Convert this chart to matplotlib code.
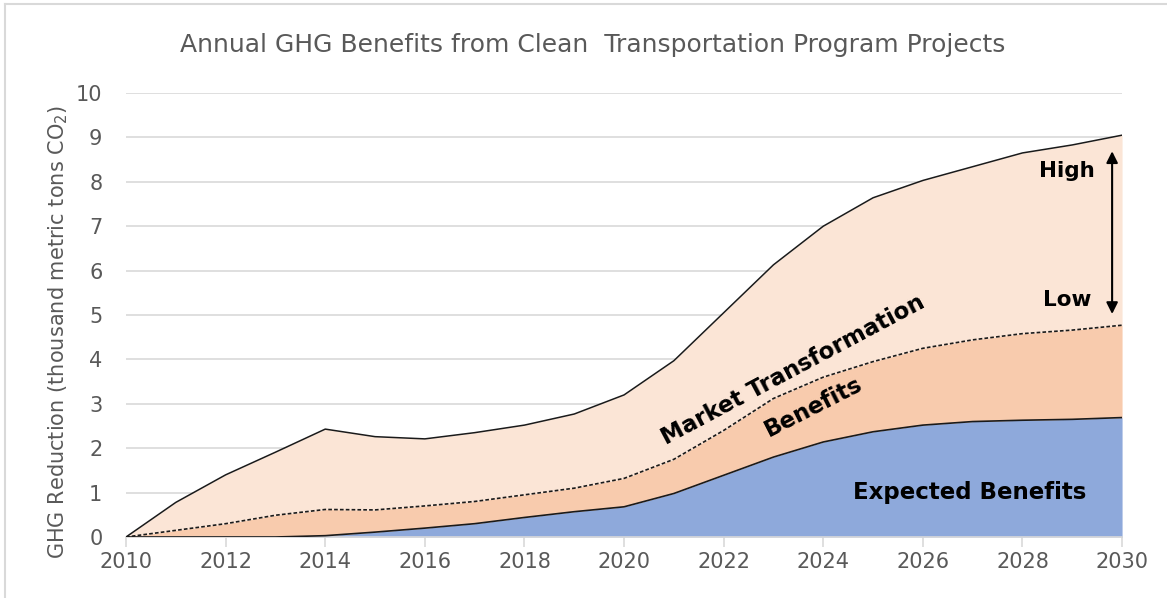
import matplotlib.pyplot as plt
import numpy as np

# data (thousand metric tons CO2)
years = np.arange(2010, 2031)
expected = [0, 0, 0, 0, 0.03, 0.11, 0.2, 0.3, 0.44, 0.57, 0.68, 0.98, 1.39, 1.8, 2.14,
            2.37, 2.52, 2.6, 2.63, 2.65, 2.69]
low = [0, 0.15, 0.3, 0.49, 0.62, 0.61, 0.7, 0.8, 0.95, 1.1, 1.32, 1.75, 2.4, 3.12, 3.6,
       3.95, 4.25, 4.44, 4.58, 4.66, 4.77]
high = [0, 0.78, 1.4, 1.91, 2.43, 2.26, 2.21, 2.35, 2.52, 2.77, 3.2, 3.97, 5.05, 6.13, 7.0,
        7.64, 8.03, 8.34, 8.65, 8.83, 9.05]

grey = '#595959'
c_exp = '#8EA9DB'
c_low = '#F8CBAD'
c_high = '#FBE5D6'

fig = plt.figure(figsize=(11.67, 5.98), dpi=100)
ax = fig.add_axes([0.108, 0.102, 0.8535, 0.7425])

ax.fill_between(years, 0, expected, color=c_exp, lw=0, zorder=2)
ax.fill_between(years, expected, low, color=c_low, lw=0, zorder=2)
ax.fill_between(years, low, high, color=c_high, lw=0, zorder=2)
ax.plot(years, expected, color='#1a1a1a', lw=1.2, zorder=3)
ax.plot(years, low, color='#1a1a1a', lw=1.2, ls=(0, (2.2, 1.3)), zorder=3)
ax.plot(years, high, color='#1a1a1a', lw=1.1, zorder=3)

ax.set_xlim(2010, 2030)
ax.set_ylim(0, 10)
ax.set_xticks(range(2010, 2031, 2))
ax.set_yticks(range(0, 11))
ax.grid(axis='y', color='#D9D9D9', lw=1.2, zorder=0)
for s in ['top', 'right', 'left']:
    ax.spines[s].set_visible(False)
ax.spines['bottom'].set_color('#D9D9D9')
ax.spines['bottom'].set_linewidth(1.2)
ax.tick_params(axis='x', colors='#D9D9D9', labelcolor=grey, labelsize=15, length=7, width=1.2, pad=4)
ax.tick_params(axis='y', length=0, labelcolor=grey, labelsize=15, pad=17)

ax.set_ylabel('GHG Reduction (thousand metric tons CO$_2$)', color=grey, fontsize=15)
ax.yaxis.set_label_coords(-0.056, 0.462)
fig.text(0.508, 0.925, 'Annual GHG Benefits from Clean  Transportation Program Projects',
         color=grey, fontsize=18, ha='center', va='center')

# annotations
ax.annotate('', xy=(2029.8, 8.75), xytext=(2029.8, 4.96),
            arrowprops=dict(arrowstyle='<|-|>', color='black', lw=1.5, mutation_scale=17), zorder=5)
ax.text(2028.9, 8.24, 'High', fontsize=15.5, fontweight='bold', ha='center', va='center', zorder=5)
ax.text(2028.9, 5.34, 'Low', fontsize=15.5, fontweight='bold', ha='center', va='center', zorder=5)
ax.text(2026.95, 1.0, 'Expected Benefits', fontsize=16.5, fontweight='bold', ha='center', va='center', zorder=5)
ax.text(2023.4, 3.75, 'Market Transformation', fontsize=16.5, fontweight='bold', ha='center', va='center',
        rotation=28, rotation_mode='anchor', zorder=5)
ax.text(2023.8, 2.93, 'Benefits', fontsize=16.5, fontweight='bold', ha='center', va='center',
        rotation=27, rotation_mode='anchor', zorder=5)

# chart frame
fig.add_artist(plt.Line2D([0.004, 1], [0.993, 0.993], color='#D9D9D9', lw=1.5, transform=fig.transFigure))
fig.add_artist(plt.Line2D([0.0045, 0.0045], [0, 0.993], color='#D9D9D9', lw=1.5, transform=fig.transFigure))

fig.savefig('out.png', dpi=100)
